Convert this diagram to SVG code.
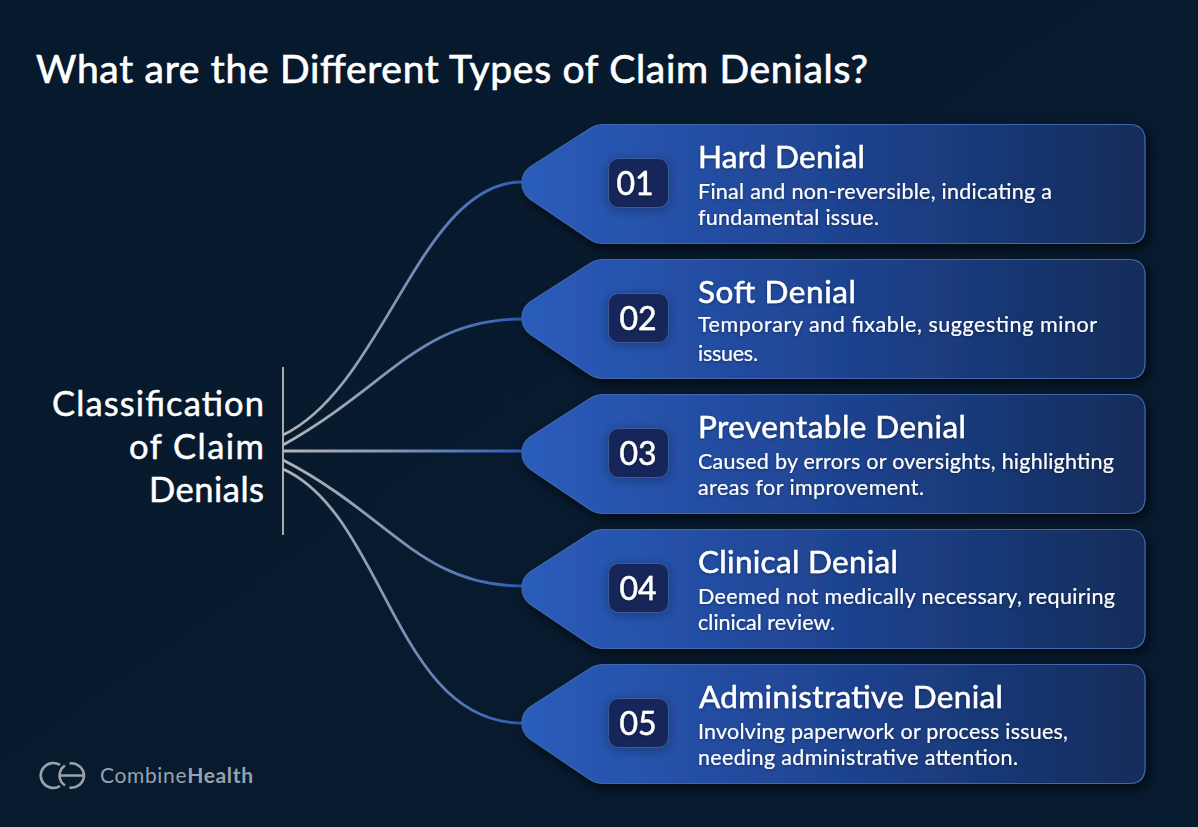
<svg xmlns="http://www.w3.org/2000/svg" width="1198" height="827" viewBox="0 0 1198 827">
<style>
text{font-family:"Lato","Noto Sans",sans-serif;fill:#fff;stroke:#fff;paint-order:stroke}
.t{font-size:39px;stroke-width:.7}
.c{font-size:34.5px;stroke-width:.5;text-anchor:end}
.h{font-size:31.5px;stroke-width:.5;filter:url(#ts)}
.d{font-size:21.5px;stroke-width:.15;filter:url(#ts)}
.n{font-size:32px;stroke-width:.5;text-anchor:middle;filter:url(#ts)}
.card{fill:url(#cardFill);stroke:#3f68ad;stroke-width:1.2;filter:url(#shadow)}
.box{fill:#12275a;stroke:#3c5c96;stroke-width:1;filter:url(#bs)}
.con{fill:none;stroke-width:2.8}
</style>
<defs>
<linearGradient id="bg" x1="0" y1="0" x2="1" y2="1"><stop offset="0" stop-color="#07192c"/><stop offset="1" stop-color="#071b30"/></linearGradient>
<linearGradient id="cardFill" x1="0" y1="0" x2="1" y2="0"><stop offset="0" stop-color="#2b5cbb"/><stop offset="0.5" stop-color="#1f4492"/><stop offset="1" stop-color="#122c5a"/></linearGradient>
<linearGradient id="cg" gradientUnits="userSpaceOnUse" x1="283" y1="0" x2="522" y2="0"><stop offset="0" stop-color="#b4b4b4"/><stop offset="0.45" stop-color="#8497b5"/><stop offset="1" stop-color="#2a5cb8"/></linearGradient>
<filter id="shadow" x="-5%" y="-15%" width="112%" height="135%"><feDropShadow dx="4" dy="5" stdDeviation="6" flood-color="#000" flood-opacity="0.6"/></filter>
<filter id="bs" x="-30%" y="-30%" width="160%" height="160%"><feDropShadow dx="0" dy="2" stdDeviation="5" flood-color="#0a1a40" flood-opacity="0.5"/></filter>
<filter id="ts" x="-5%" y="-30%" width="110%" height="160%"><feDropShadow dx="0" dy="1" stdDeviation="1.5" flood-color="#000" flood-opacity="0.35"/></filter>
<path id="shape" d="M530 167L590 128.5Q596 124.5 604 124.5H1129Q1145 124.5 1145 140.5V227.5Q1145 243.5 1129 243.5H604Q596 243.5 590 239.5L530 199Q522 193 522 183Q522 173 530 167Z"/>
</defs>
<rect width="1198" height="827" fill="url(#bg)"/>
<text class="t" x="36" y="83" id="title" textLength="832">What are the Different Types of Claim Denials?</text>
<g id="root">
<line x1="283" y1="367" x2="283" y2="535" stroke="#a9a9a9" stroke-width="2"/>
<text class="c" x="264" y="416" textLength="212">Classification</text>
<text class="c" x="264" y="459" textLength="135">of Claim</text>
<text class="c" x="264" y="502" textLength="115">Denials</text>
</g>
<g id="connectors">
<path class="con" stroke="url(#cg)" d="M283 435C385 386 420 182 522 182"/>
<path class="con" stroke="url(#cg)" d="M283 445C390 385 420 319 522 319"/>
<path class="con" stroke="url(#cg)" d="M283 451H522"/>
<path class="con" stroke="url(#cg)" d="M283 460C390 515 420 586 522 586"/>
<path class="con" stroke="url(#cg)" d="M283 469C385 515 395 723 522 723"/>
</g>
<g id="node1"><use href="#shape" class="card"/><rect class="box" x="608.5" y="158.5" width="60" height="49" rx="10"/><text class="n" x="635" y="195">01</text><text class="h" x="698" y="168" textLength="167">Hard Denial</text><text class="d" x="698" y="199" textLength="354">Final and non-reversible, indicating a</text><text class="d" x="698" y="225" textLength="181">fundamental issue.</text></g>
<g id="node2" transform="translate(0 135)"><use href="#shape" class="card"/><rect class="box" x="608.5" y="158.5" width="60" height="49" rx="10"/><text class="n" x="638" y="195">02</text><text class="h" x="698" y="168" textLength="158">Soft Denial</text><text class="d" x="698" y="197" textLength="399">Temporary and fixable, suggesting minor</text><text class="d" x="698" y="226" textLength="60">issues.</text></g>
<g id="node3" transform="translate(0 270)"><use href="#shape" class="card"/><rect class="box" x="608.5" y="158.5" width="60" height="49" rx="10"/><text class="n" x="638" y="195">03</text><text class="h" x="698" y="168" textLength="268">Preventable Denial</text><text class="d" x="698" y="199" textLength="416">Caused by errors or oversights, highlighting</text><text class="d" x="698" y="225" textLength="226">areas for improvement.</text></g>
<g id="node4" transform="translate(0 405)"><use href="#shape" class="card"/><rect class="box" x="608.5" y="158.5" width="60" height="49" rx="10"/><text class="n" x="638" y="195">04</text><text class="h" x="698" y="168" textLength="200">Clinical Denial</text><text class="d" x="698" y="199" textLength="417">Deemed not medically necessary, requiring</text><text class="d" x="698" y="225" textLength="137">clinical review.</text></g>
<g id="node5" transform="translate(0 540)"><use href="#shape" class="card"/><rect class="box" x="608.5" y="158.5" width="60" height="49" rx="10"/><text class="n" x="638" y="195">05</text><text class="h" x="699" y="168" textLength="304">Administrative Denial</text><text class="d" x="698" y="199" textLength="370">Involving paperwork or process issues,</text><text class="d" x="698" y="225" textLength="320">needing administrative attention.</text></g>
<g id="logo" fill="none" stroke="#98a2ae" stroke-width="2.6">
<path d="M60 765A12.5 12.5 0 1 0 60 786"/>
<path d="M65 765.5A12.5 12.5 0 0 0 59.5 775.5H84A12.5 12.5 0 0 0 69.5 763.5M69.5 787.5A12.5 12.5 0 0 0 84 775.5M59.5 775.5A12.5 12.5 0 0 0 65 785.5"/>
<text x="100" y="783" textLength="153" style="fill:#98a2ae;stroke:none;font-size:21px">Combine<tspan font-weight="700">Health</tspan></text>
</g>
</svg>
